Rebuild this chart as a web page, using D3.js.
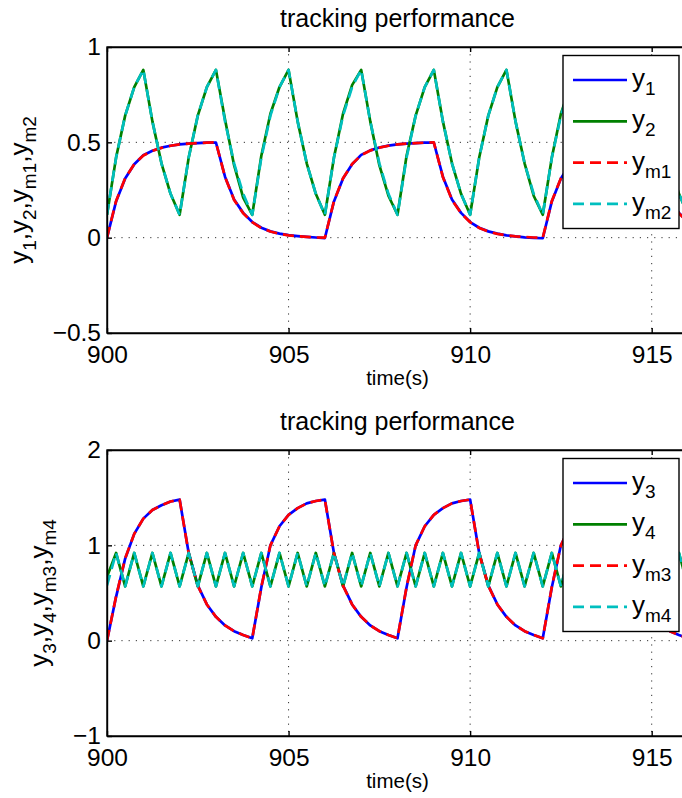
<!DOCTYPE html>
<html>
<head>
<meta charset="utf-8">
<script src="https://cdn.jsdelivr.net/npm/d3@7"></script>
<style>
body { margin: 0; background: #fff; }
text { font-family: "Liberation Sans", Arial, Helvetica, sans-serif; fill: #000; }
</style>
</head>
<body>
<script>
//Width and height
var width = 682;
var height = 798;

//time samples, 0.25 s apart
var time = d3.range(65).map(function(i) { return 900 + i * 0.25; });

var xDomain = [900, 916];
var xTicks = [900, 905, 910, 915];
var xTickLabels = ["900", "905", "910", "915"];

var topYDomain = [-0.5, 1];
var topYTicks = [-0.5, 0, 0.5, 1];
var topYTickLabels = ["\u22120.5", "0", "0.5", "1"];

var botYDomain = [-1, 2];
var botYTicks = [-1, 0, 1, 2];
var botYTickLabels = ["\u22121", "0", "1", "2"];

var titleText = "tracking performance";
var xLabelText = "time(s)";
var topSubs = ["1", "2", "m1", "m2"];
var botSubs = ["3", "4", "m3", "m4"];

//top panel
var y1 = [
  0.000, 0.190, 0.310, 0.385, 0.432, 0.456, 0.472, 0.482, 0.489, 0.493, 0.496, 0.498, 0.499,
  0.320, 0.200, 0.130, 0.082, 0.052, 0.033, 0.021, 0.013, 0.008, 0.004, 0.001, -0.002,
  0.190, 0.310, 0.385, 0.434, 0.458, 0.473, 0.483, 0.489, 0.493, 0.496, 0.498, 0.499,
  0.320, 0.200, 0.130, 0.082, 0.052, 0.033, 0.021, 0.012, 0.007, 0.002, -0.001, -0.003,
  0.190, 0.310, 0.385, 0.432, 0.456, 0.472, 0.482, 0.489, 0.493, 0.496, 0.498, 0.499,
  0.320, 0.200, 0.130, 0.082
];
var ym1 = [
  0.000, 0.192, 0.312, 0.386, 0.431, 0.455, 0.471, 0.482, 0.489, 0.493, 0.496, 0.498, 0.500,
  0.318, 0.198, 0.128, 0.081, 0.051, 0.032, 0.020, 0.012, 0.007, 0.004, 0.001, 0.000,
  0.192, 0.312, 0.386, 0.433, 0.457, 0.472, 0.482, 0.489, 0.493, 0.496, 0.498, 0.500,
  0.318, 0.198, 0.128, 0.081, 0.051, 0.032, 0.020, 0.012, 0.007, 0.004, 0.001, 0.000,
  0.192, 0.312, 0.386, 0.431, 0.455, 0.471, 0.482, 0.489, 0.493, 0.496, 0.498, 0.500,
  0.318, 0.198, 0.128, 0.081
];
var y2 = [
  0.12, 0.42, 0.64, 0.79, 0.88, 0.61, 0.39, 0.23,
  0.12, 0.42, 0.64, 0.79, 0.88, 0.62, 0.38, 0.21,
  0.12, 0.43, 0.65, 0.79, 0.88, 0.61, 0.39, 0.23,
  0.12, 0.42, 0.65, 0.80, 0.88, 0.61, 0.38, 0.22,
  0.12, 0.43, 0.64, 0.79, 0.88, 0.61, 0.39, 0.23,
  0.12, 0.42, 0.64, 0.79, 0.88, 0.61, 0.39, 0.22,
  0.12, 0.42, 0.65, 0.79, 0.88, 0.61, 0.39, 0.23,
  0.12, 0.42, 0.64, 0.79, 0.88, 0.61, 0.39, 0.23,
  0.12
];
var ym2 = [
  0.12, 0.42, 0.64, 0.79, 0.88, 0.61, 0.39, 0.23,
  0.12, 0.42, 0.64, 0.79, 0.88, 0.61, 0.39, 0.23,
  0.12, 0.42, 0.64, 0.79, 0.88, 0.61, 0.39, 0.23,
  0.12, 0.42, 0.64, 0.79, 0.88, 0.61, 0.39, 0.23,
  0.12, 0.42, 0.64, 0.79, 0.88, 0.61, 0.39, 0.23,
  0.12, 0.42, 0.64, 0.79, 0.88, 0.61, 0.39, 0.23,
  0.12, 0.42, 0.64, 0.79, 0.88, 0.61, 0.39, 0.23,
  0.12, 0.42, 0.64, 0.79, 0.88, 0.61, 0.39, 0.23,
  0.12
];

//bottom panel
var y3 = [
  0.000, 0.460, 0.860, 1.120, 1.280, 1.370, 1.420, 1.460, 1.480,
  0.920, 0.580, 0.380, 0.250, 0.160, 0.100, 0.060, 0.025,
  0.560, 1.000, 1.200, 1.320, 1.390, 1.440, 1.465, 1.480,
  0.920, 0.580, 0.380, 0.250, 0.160, 0.100, 0.060, 0.025,
  0.560, 1.000, 1.200, 1.320, 1.390, 1.440, 1.465, 1.480,
  0.920, 0.580, 0.380, 0.250, 0.160, 0.100, 0.060, 0.025,
  0.560, 1.000, 1.200, 1.320, 1.390, 1.440, 1.465, 1.480,
  0.920, 0.580, 0.380, 0.250, 0.160, 0.100, 0.060, 0.025
];
var ym3 = [
  0.000, 0.465, 0.865, 1.120, 1.280, 1.370, 1.420, 1.460, 1.480,
  0.915, 0.575, 0.380, 0.250, 0.160, 0.100, 0.060, 0.025,
  0.565, 1.000, 1.200, 1.320, 1.390, 1.440, 1.465, 1.480,
  0.915, 0.575, 0.380, 0.250, 0.160, 0.100, 0.060, 0.025,
  0.565, 1.000, 1.200, 1.320, 1.390, 1.440, 1.465, 1.480,
  0.915, 0.575, 0.380, 0.250, 0.160, 0.100, 0.060, 0.025,
  0.565, 1.000, 1.200, 1.320, 1.390, 1.440, 1.465, 1.480,
  0.915, 0.575, 0.380, 0.250, 0.160, 0.100, 0.060, 0.025
];
var y4 = [
  0.67, 0.92, 0.57, 0.92, 0.57, 0.92, 0.57, 0.92, 0.57, 0.92, 0.57, 0.92, 0.57,
  0.92, 0.57, 0.92, 0.57, 0.92, 0.57, 0.92, 0.57, 0.92, 0.57, 0.92, 0.57, 0.92,
  0.57, 0.92, 0.57, 0.92, 0.57, 0.92, 0.57, 0.92, 0.57, 0.92, 0.57, 0.92, 0.57,
  0.92, 0.57, 0.92, 0.57, 0.92, 0.57, 0.92, 0.57, 0.92, 0.57, 0.92, 0.57, 0.92,
  0.57, 0.92, 0.57, 0.92, 0.57, 0.92, 0.57, 0.92, 0.57, 0.92, 0.57, 0.92, 0.57
];
var ym4 = [
  0.58, 0.92, 0.57, 0.92, 0.57, 0.92, 0.57, 0.92, 0.57, 0.92, 0.57, 0.92, 0.57,
  0.92, 0.57, 0.92, 0.57, 0.92, 0.57, 0.92, 0.57, 0.92, 0.57, 0.92, 0.57, 0.92,
  0.57, 0.92, 0.57, 0.92, 0.57, 0.92, 0.57, 0.92, 0.57, 0.92, 0.57, 0.92, 0.57,
  0.92, 0.57, 0.92, 0.57, 0.92, 0.57, 0.92, 0.57, 0.92, 0.57, 0.92, 0.57, 0.92,
  0.57, 0.92, 0.57, 0.92, 0.57, 0.92, 0.57, 0.92, 0.57, 0.92, 0.57, 0.92, 0.57
];

var colors = ["#0000ff", "#008000", "#ff0000", "#00bfbf"];
var dashes = [null, null, "11,6", "11,6"];

//Create SVG element
var svg = d3.select("body")
  .append("svg")
  .attr("width", width)
  .attr("height", height);

var plotLeft = 107, plotRight = 688, plotH = 286;

function drawPanel(id, top, yDomain, yTicks, yTickLabels, series, subs, ylabX) {
  var x = d3.scaleLinear().domain(xDomain).range([plotLeft, plotRight]);
  var y = d3.scaleLinear().domain(yDomain).range([top + plotH, top]);
  var g = svg.append("g");

  g.append("clipPath").attr("id", id)
    .append("rect")
    .attr("x", plotLeft).attr("y", top)
    .attr("width", plotRight - plotLeft).attr("height", plotH);

  //dotted grid
  g.selectAll(".vgrid").data(xTicks.slice(1)).enter()
    .append("line")
    .attr("x1", function(d) { return x(d); })
    .attr("x2", function(d) { return x(d); })
    .attr("y1", top).attr("y2", top + plotH)
    .attr("stroke", "#333").attr("stroke-width", 1)
    .attr("stroke-dasharray", "1.2,6");
  g.selectAll(".hgrid").data(yTicks.slice(1, -1)).enter()
    .append("line")
    .attr("x1", plotLeft).attr("x2", plotRight)
    .attr("y1", function(d) { return y(d); })
    .attr("y2", function(d) { return y(d); })
    .attr("stroke", "#333").attr("stroke-width", 1)
    .attr("stroke-dasharray", "1.2,6");

  //curves
  var line = d3.line()
    .x(function(d, i) { return x(time[i]); })
    .y(function(d) { return y(d); });
  var curves = g.append("g").attr("clip-path", "url(#" + id + ")");
  series.forEach(function(s, k) {
    curves.append("path")
      .datum(s)
      .attr("d", line)
      .attr("fill", "none")
      .attr("stroke", colors[k])
      .attr("stroke-width", 2.7)
      .attr("stroke-linejoin", "round")
      .attr("stroke-dasharray", dashes[k]);
  });

  //axes
  var xAxis = d3.axisBottom(x).tickValues(xTicks)
    .tickFormat(function(d, i) { return xTickLabels[i]; })
    .tickSizeInner(-5).tickSizeOuter(0).tickPadding(12.5);
  var xg = g.append("g").attr("transform", "translate(0," + (top + plotH) + ")").call(xAxis);
  xg.selectAll("text").style("font-size", "24.5px").attr("fill", "#000");

  var xTop = d3.axisTop(x).tickValues(xTicks).tickFormat("")
    .tickSizeInner(-5).tickSizeOuter(0);
  g.append("g").attr("transform", "translate(0," + top + ")").call(xTop);

  var yAxis = d3.axisLeft(y).tickValues(yTicks)
    .tickFormat(function(d, i) { return yTickLabels[i]; })
    .tickSizeInner(-5).tickSizeOuter(0).tickPadding(6);
  var yg = g.append("g").attr("transform", "translate(" + plotLeft + ",0)").call(yAxis);
  yg.selectAll("text").style("font-size", "24.5px").attr("fill", "#000");

  g.selectAll(".domain, .tick line").attr("stroke", "#000").attr("stroke-width", 1.4);

  g.append("rect")
    .attr("x", plotLeft).attr("y", top)
    .attr("width", plotRight - plotLeft).attr("height", plotH)
    .attr("fill", "none").attr("stroke", "#000").attr("stroke-width", 1.4);

  //title and labels
  g.append("text")
    .attr("x", (plotLeft + plotRight) / 2).attr("y", top - 20)
    .attr("text-anchor", "middle").style("font-size", "25px")
    .text(titleText);
  g.append("text")
    .attr("x", (plotLeft + plotRight) / 2).attr("y", top + plotH + 52)
    .attr("text-anchor", "middle").style("font-size", "20.5px")
    .text(xLabelText);

  var yl = g.append("text")
    .attr("transform", "translate(" + ylabX + "," + (top + plotH / 2) + ") rotate(-90)")
    .attr("text-anchor", "middle").style("font-size", "26px");
  subs.forEach(function(s, i) {
    yl.append("tspan").attr("dy", i === 0 ? 0 : -8).text((i === 0 ? "" : ",") + "y");
    yl.append("tspan").attr("dy", 8).style("font-size", "19px").text(s);
  });

  //legend
  var lg = g.append("g");
  lg.append("rect")
    .attr("x", 563).attr("y", top + 8.5)
    .attr("width", 116).attr("height", 173)
    .attr("fill", "#fff").attr("stroke", "#000").attr("stroke-width", 1.4);
  subs.forEach(function(s, k) {
    var ly = top + 33 + k * 41.3;
    lg.append("line")
      .attr("x1", 573).attr("x2", 627)
      .attr("y1", ly).attr("y2", ly)
      .attr("stroke", colors[k]).attr("stroke-width", 2.7)
      .attr("stroke-dasharray", dashes[k]);
    var t = lg.append("text").attr("x", 632).attr("y", ly + 7).style("font-size", "26px");
    t.append("tspan").text("y");
    t.append("tspan").attr("dy", 8).style("font-size", "19px").text(s);
  });
}

drawPanel("clipTop", 47, topYDomain, topYTicks, topYTickLabels, [y1, y2, ym1, ym2], topSubs, 28);
drawPanel("clipBot", 450, botYDomain, botYTicks, botYTickLabels, [y3, y4, ym3, ym4], botSubs, 48);
</script>
</body>
</html>
